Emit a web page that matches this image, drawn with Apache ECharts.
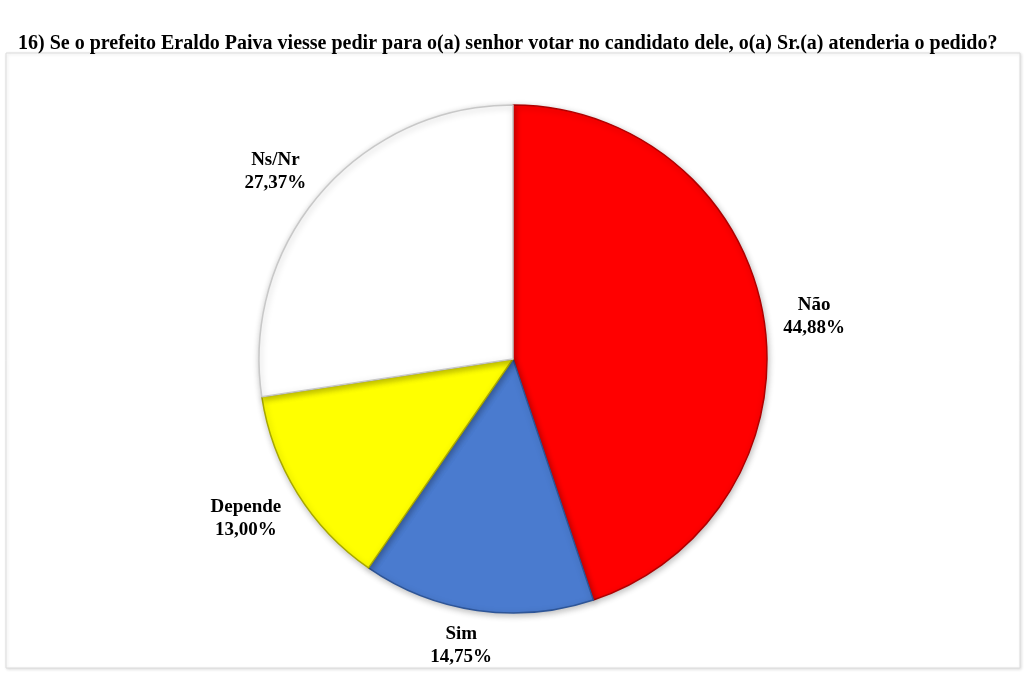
<!DOCTYPE html>
<html>
<head>
<meta charset="utf-8">
<style>html,body{margin:0;padding:0;background:#fff;}#chart{width:1024px;height:690px;}</style>
<script src="https://cdn.jsdelivr.net/npm/echarts@6/dist/echarts.min.js"></script>
</head>
<body>
<div id="chart"></div>
<script>
const titleText = '16) Se o prefeito Eraldo Paiva viesse pedir para o(a) senhor votar no candidato dele, o(a) Sr.(a) atenderia o pedido?';
const categories = ['Não', 'Sim', 'Depende', 'Ns/Nr'];
const values = [44.88, 14.75, 13.00, 27.37];
const colors = ['#FF0000', '#4A7BCF', '#FFFF00', '#FFFFFF'];
const borderColors = ['#B00000', '#2E5597', '#A8A800', '#C8C8C8'];

const fmt = v => v.toFixed(2).replace('.', ',') + '%';

const chart = echarts.init(document.getElementById('chart'));
chart.setOption({
  animation: false,
  backgroundColor: '#fff',
  title: {
    text: titleText,
    left: 13, top: 29,
    textStyle: { fontFamily: 'Liberation Serif', fontWeight: 'bold', fontSize: 20, color: '#000' }
  },
  graphic: [{
    type: 'rect', silent: true, z: -10,
    shape: { x: 6, y: 53, width: 1014, height: 615 },
    style: { fill: '#fff', stroke: '#dcdcdc', lineWidth: 1, shadowBlur: 3, shadowColor: 'rgba(0,0,0,0.12)', shadowOffsetX: 1, shadowOffsetY: 1 }
  }],
  series: [{
    type: 'pie',
    center: [513, 359],
    radius: [0, 254],
    startAngle: 90,
    clockwise: true,
    silent: true,
    label: { show: false },
    labelLine: { show: false },
    data: categories.map((c, i) => ({
      name: c, value: values[i],
      itemStyle: { color: colors[i], borderColor: borderColors[i], borderWidth: 1.5,
                   shadowBlur: 6, shadowColor: 'rgba(0,0,0,0.25)', shadowOffsetX: 1, shadowOffsetY: 2 }
    }))
  }, {
    type: 'pie',
    center: [513, 359],
    radius: [284, 316],
    startAngle: 90,
    clockwise: true,
    silent: true,
    itemStyle: { color: 'rgba(0,0,0,0)' },
    label: {
      show: true, position: 'inside',
      formatter: p => p.name + '\n' + fmt(p.value),
      fontFamily: 'Liberation Serif', fontWeight: 'bold', fontSize: 19, lineHeight: 23, color: '#000'
    },
    labelLayout: p => {
      const nudge = [[2, 6], [-9, -13], [-10, -1], [-8, 10]][p.dataIndex];
      return { dx: nudge[0], dy: nudge[1] };
    },
    labelLine: { show: false },
    data: categories.map((c, i) => ({ name: c, value: values[i] }))
  }]
});
</script>
</body>
</html>
